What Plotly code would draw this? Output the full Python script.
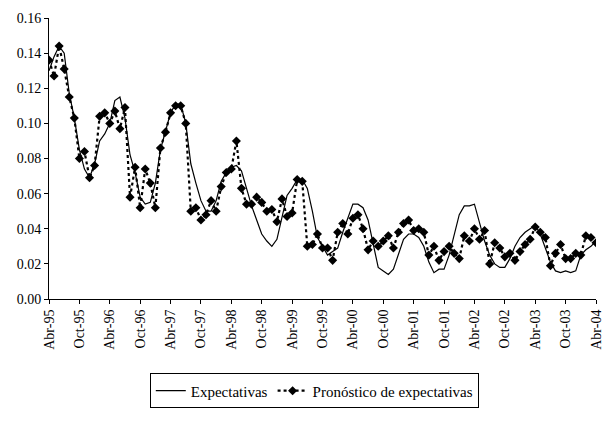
import plotly.graph_objects as go

# Monthly series, April 1995 to April 2004 (109 months)
expectativas = [
    0.130, 0.138, 0.144, 0.140, 0.117, 0.103, 0.085, 0.074, 0.069, 0.077, 0.090, 0.094,
    0.100, 0.113, 0.115, 0.103, 0.082, 0.072, 0.058, 0.054, 0.055, 0.066, 0.085, 0.096,
    0.106, 0.111, 0.111, 0.100, 0.077, 0.066, 0.056, 0.050, 0.050, 0.056, 0.067, 0.072,
    0.075, 0.076, 0.073, 0.063, 0.053, 0.045, 0.037, 0.033, 0.030, 0.034, 0.046, 0.059,
    0.063, 0.068, 0.068, 0.063, 0.050, 0.035, 0.030, 0.025, 0.027, 0.029, 0.038, 0.046,
    0.054, 0.054, 0.052, 0.045, 0.031, 0.018, 0.016, 0.014, 0.017, 0.026, 0.034, 0.037,
    0.037, 0.035, 0.030, 0.021, 0.015, 0.017, 0.017, 0.025, 0.036, 0.048, 0.053, 0.053,
    0.054, 0.044, 0.033, 0.025, 0.020, 0.018, 0.018, 0.023, 0.030, 0.035, 0.038, 0.040,
    0.042, 0.037, 0.029, 0.021, 0.016, 0.015, 0.016, 0.015, 0.016, 0.025, 0.028, 0.030,
    0.033,
]

pronostico = [
    0.136, 0.127, 0.144, 0.131, 0.115, 0.103, 0.080, 0.084, 0.069, 0.076, 0.104, 0.106,
    0.100, 0.107, 0.097, 0.109, 0.058, 0.075, 0.052, 0.074, 0.066, 0.052, 0.086, 0.095,
    0.106, 0.110, 0.110, 0.100, 0.050, 0.052, 0.045, 0.048, 0.056, 0.050, 0.064, 0.072,
    0.074, 0.090, 0.063, 0.054, 0.054, 0.058, 0.055, 0.050, 0.051, 0.044, 0.057, 0.047,
    0.049, 0.068, 0.067, 0.030, 0.031, 0.037, 0.029, 0.029, 0.022, 0.038, 0.043, 0.037,
    0.046, 0.048, 0.040, 0.028, 0.033, 0.030, 0.033, 0.036, 0.029, 0.038, 0.043, 0.045,
    0.039, 0.040, 0.038, 0.025, 0.030, 0.022, 0.027, 0.030, 0.026, 0.023, 0.036, 0.033,
    0.040, 0.034, 0.039, 0.020, 0.032, 0.029, 0.024, 0.026, 0.022, 0.027, 0.031, 0.034,
    0.041, 0.038, 0.035, 0.019, 0.026, 0.031, 0.023, 0.023, 0.026, 0.025, 0.036, 0.035,
    0.032,
]

tick_labels = [
    "Abr-95", "Oct-95", "Abr-96", "Oct-96", "Abr-97", "Oct-97", "Abr-98", "Oct-98",
    "Abr-99", "Oct-99", "Abr-00", "Oct-00", "Abr-01", "Oct-01", "Abr-02", "Oct-02",
    "Abr-03", "Oct-03", "Abr-04",
]

months = list(range(len(expectativas)))
tick_positions = [6 * k for k in range(len(tick_labels))]

font_family = "Liberation Serif, Times New Roman, serif"

fig = go.Figure()
fig.add_trace(go.Scatter(
    x=months, y=expectativas, mode="lines", name="Expectativas",
    line=dict(color="black", width=1.2),
))
fig.add_trace(go.Scatter(
    x=months, y=pronostico, mode="lines+markers", name="Pronóstico de expectativas",
    line=dict(color="black", width=2.2, dash="dot"),
    marker=dict(symbol="diamond", size=7, color="black"),
))

fig.update_layout(
    width=608, height=426,
    margin=dict(l=49, r=4, t=18, b=127),
    paper_bgcolor="white", plot_bgcolor="white",
    font=dict(family=font_family, size=14, color="black"),
    showlegend=True,
    legend=dict(
        orientation="h", x=0.485, xanchor="center", y=-0.265, yanchor="top",
        bordercolor="black", borderwidth=1, bgcolor="white",
        font=dict(family=font_family, size=15, color="black"),
        itemwidth=30, tracegroupgap=0,
    ),
    xaxis=dict(
        range=[0, 108], tickmode="array", tickvals=tick_positions, ticktext=tick_labels,
        tickangle=-90, ticks="outside", ticklen=4, tickcolor="black",
        ticklabeloverflow="allow",
        showline=True, linecolor="black", linewidth=1, showgrid=False, zeroline=False,
        tickfont=dict(family=font_family, size=14, color="black"),
    ),
    yaxis=dict(
        range=[0, 0.16], tickmode="linear", tick0=0, dtick=0.02, tickformat=".2f",
        ticks="outside", ticklen=4, tickcolor="black",
        showline=True, linecolor="black", linewidth=1, showgrid=False, zeroline=False,
        tickfont=dict(family=font_family, size=14, color="black"),
    ),
)

fig.write_html("out.html")
